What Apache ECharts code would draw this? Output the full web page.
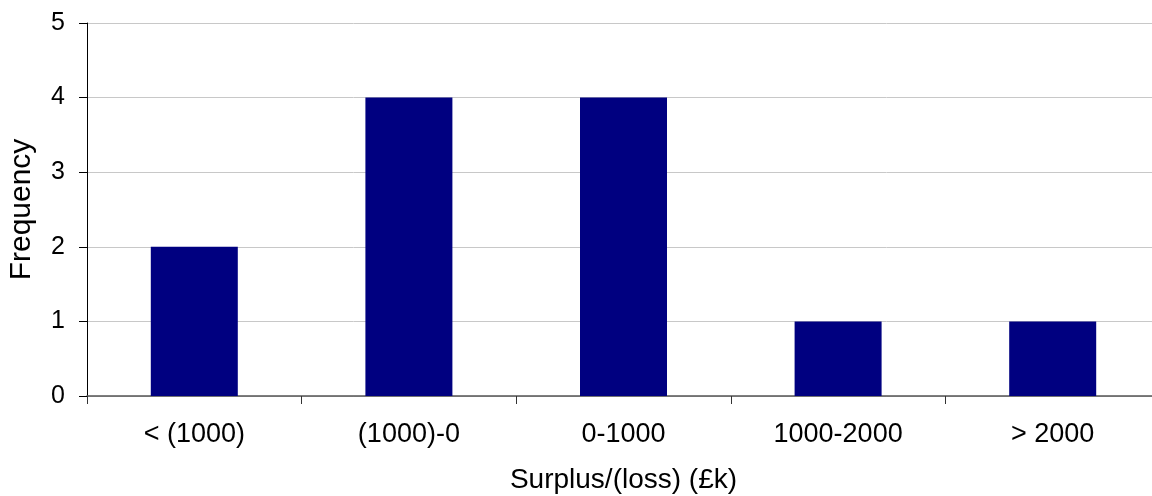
<!DOCTYPE html>
<html><head><meta charset="utf-8">
<script src="https://cdn.jsdelivr.net/npm/echarts@6/dist/echarts.min.js"></script>
<style>html,body{margin:0;padding:0;background:#fff}#c{width:1152px;height:496px}</style>
</head><body><div id="c"></div>
<script>
const categories = ["< (1000)", "(1000)-0", "0-1000", "1000-2000", "> 2000"];
const frequency = [2, 4, 4, 1, 1];
const yTicks = [0, 1, 2, 3, 4, 5];
const chart = echarts.init(document.getElementById('c'), null, {renderer: 'canvas'});
const font = '"Liberation Sans", Arial, sans-serif';
chart.setOption({
  animation: false,
  grid: {left: 87, top: 23, width: 1073, height: 373, containLabel: false, outerBoundsMode: 'none'},
  xAxis: {
    type: 'category', data: categories,
    name: 'Surplus/(loss) (£k)', nameLocation: 'middle', nameGap: 70,
    nameTextStyle: {fontFamily: font, fontSize: 28, color: '#000'},
    axisLine: {lineStyle: {color: '#555', width: 1.5}},
    axisTick: {show: true, alignWithLabel: false, length: 8, lineStyle: {color: '#333'}},
    axisLabel: {fontFamily: font, fontSize: 27, color: '#000', margin: 25}
  },
  yAxis: {
    type: 'value', min: 0, max: 5, interval: 1,
    name: 'Frequency', nameLocation: 'middle', nameGap: 50, nameRotate: 90,
    nameTextStyle: {fontFamily: font, fontSize: 30, color: '#000'},
    axisLine: {show: true, lineStyle: {color: '#000', width: 1}},
    axisTick: {show: true, length: 8, lineStyle: {color: '#000'}},
    axisLabel: {fontFamily: font, fontSize: 25, color: '#000', margin: 22,
      formatter: v => yTicks.includes(v) ? String(v) : ''},
    splitLine: {show: true, lineStyle: {color: '#c8c8c8', width: 1}}
  },
  series: [{
    type: 'bar', data: frequency, barWidth: 87,
    itemStyle: {color: '#000080'}
  }]
});
</script></body></html>
